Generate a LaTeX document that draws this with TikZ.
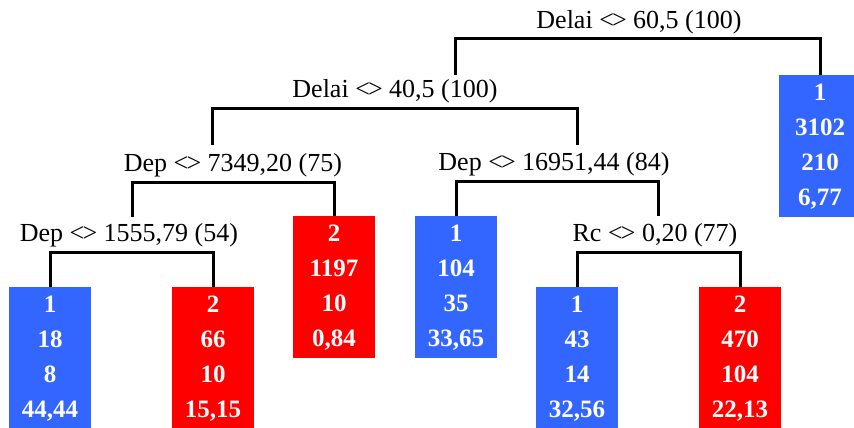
\documentclass[tikz,border=0pt]{standalone}
\usepackage{fontspec}
\setmainfont{Liberation Serif}
\definecolor{treeblue}{RGB}{51,102,255}
\newcommand\splitop{<\kern-.07em>}

\begin{document}
\begin{tikzpicture}[x=1pt,y=-1pt,
  split/.style={anchor=south,inner xsep=0pt,inner ysep=5pt,text depth=5pt,font=\fontsize{26}{30}\selectfont},
  leaf/.style={anchor=north,minimum width=82pt,minimum height=142pt,inner sep=0pt,align=center,text=white,font=\bfseries\fontsize{25}{35}\selectfont},
  clsone/.style={leaf,fill=treeblue},
  clstwo/.style={leaf,fill=red},
  branch/.style={line width=3pt}]
\useasboundingbox (0,0) rectangle (854,428);
% splits
\node[split] (s1) at (639,39) {Delai \splitop{} 60,5 (100)};
\node[split] (s2) at (395,108) {Delai \splitop{} 40,5 (100)};
\node[split] (s3) at (233,182) {Dep \splitop{} 7349,20 (75)};
\node[split] (s4) at (129,252) {Dep \splitop{} 1555,79 (54)};
\node[split] (s5) at (554,181) {Dep \splitop{} 16951,44 (84)};
\node[split] (s6) at (655,252) {Rc \splitop{} 0,20 (77)};
\coordinate (k2) at (455,75);
\coordinate (k3) at (212,145);
\coordinate (k5) at (577,145);
\coordinate (k4) at (132,217);
\coordinate (k6) at (658,216);
% leaves
\node[clsone] (l1) at (820,75) {1\\3102\\210\\6,77};
\node[clstwo] (l2) at (334,216) {2\\1197\\10\\0,84};
\node[clsone] (l3) at (50,287) {1\\18\\8\\44,44};
\node[clstwo] (l4) at (213,287) {2\\66\\10\\15,15};
\node[clsone] (l5) at (456,216) {1\\104\\35\\33,65};
\node[clsone] (l6) at (577,287) {1\\43\\14\\32,56};
\node[clstwo] (l7) at (740,287) {2\\470\\104\\22,13};
% branches
\draw[branch] (k2) |- (s1.south) -| (l1.north);
\draw[branch] (k3) |- (s2.south) -| (k5);
\draw[branch] (k4) |- (s3.south) -| (l2.north);
\draw[branch] (l3.north) |- (s4.south) -| (l4.north);
\draw[branch] (l5.north) |- (s5.south) -| (k6);
\draw[branch] (l6.north) |- (s6.south) -| (l7.north);
\end{tikzpicture}
\end{document}
